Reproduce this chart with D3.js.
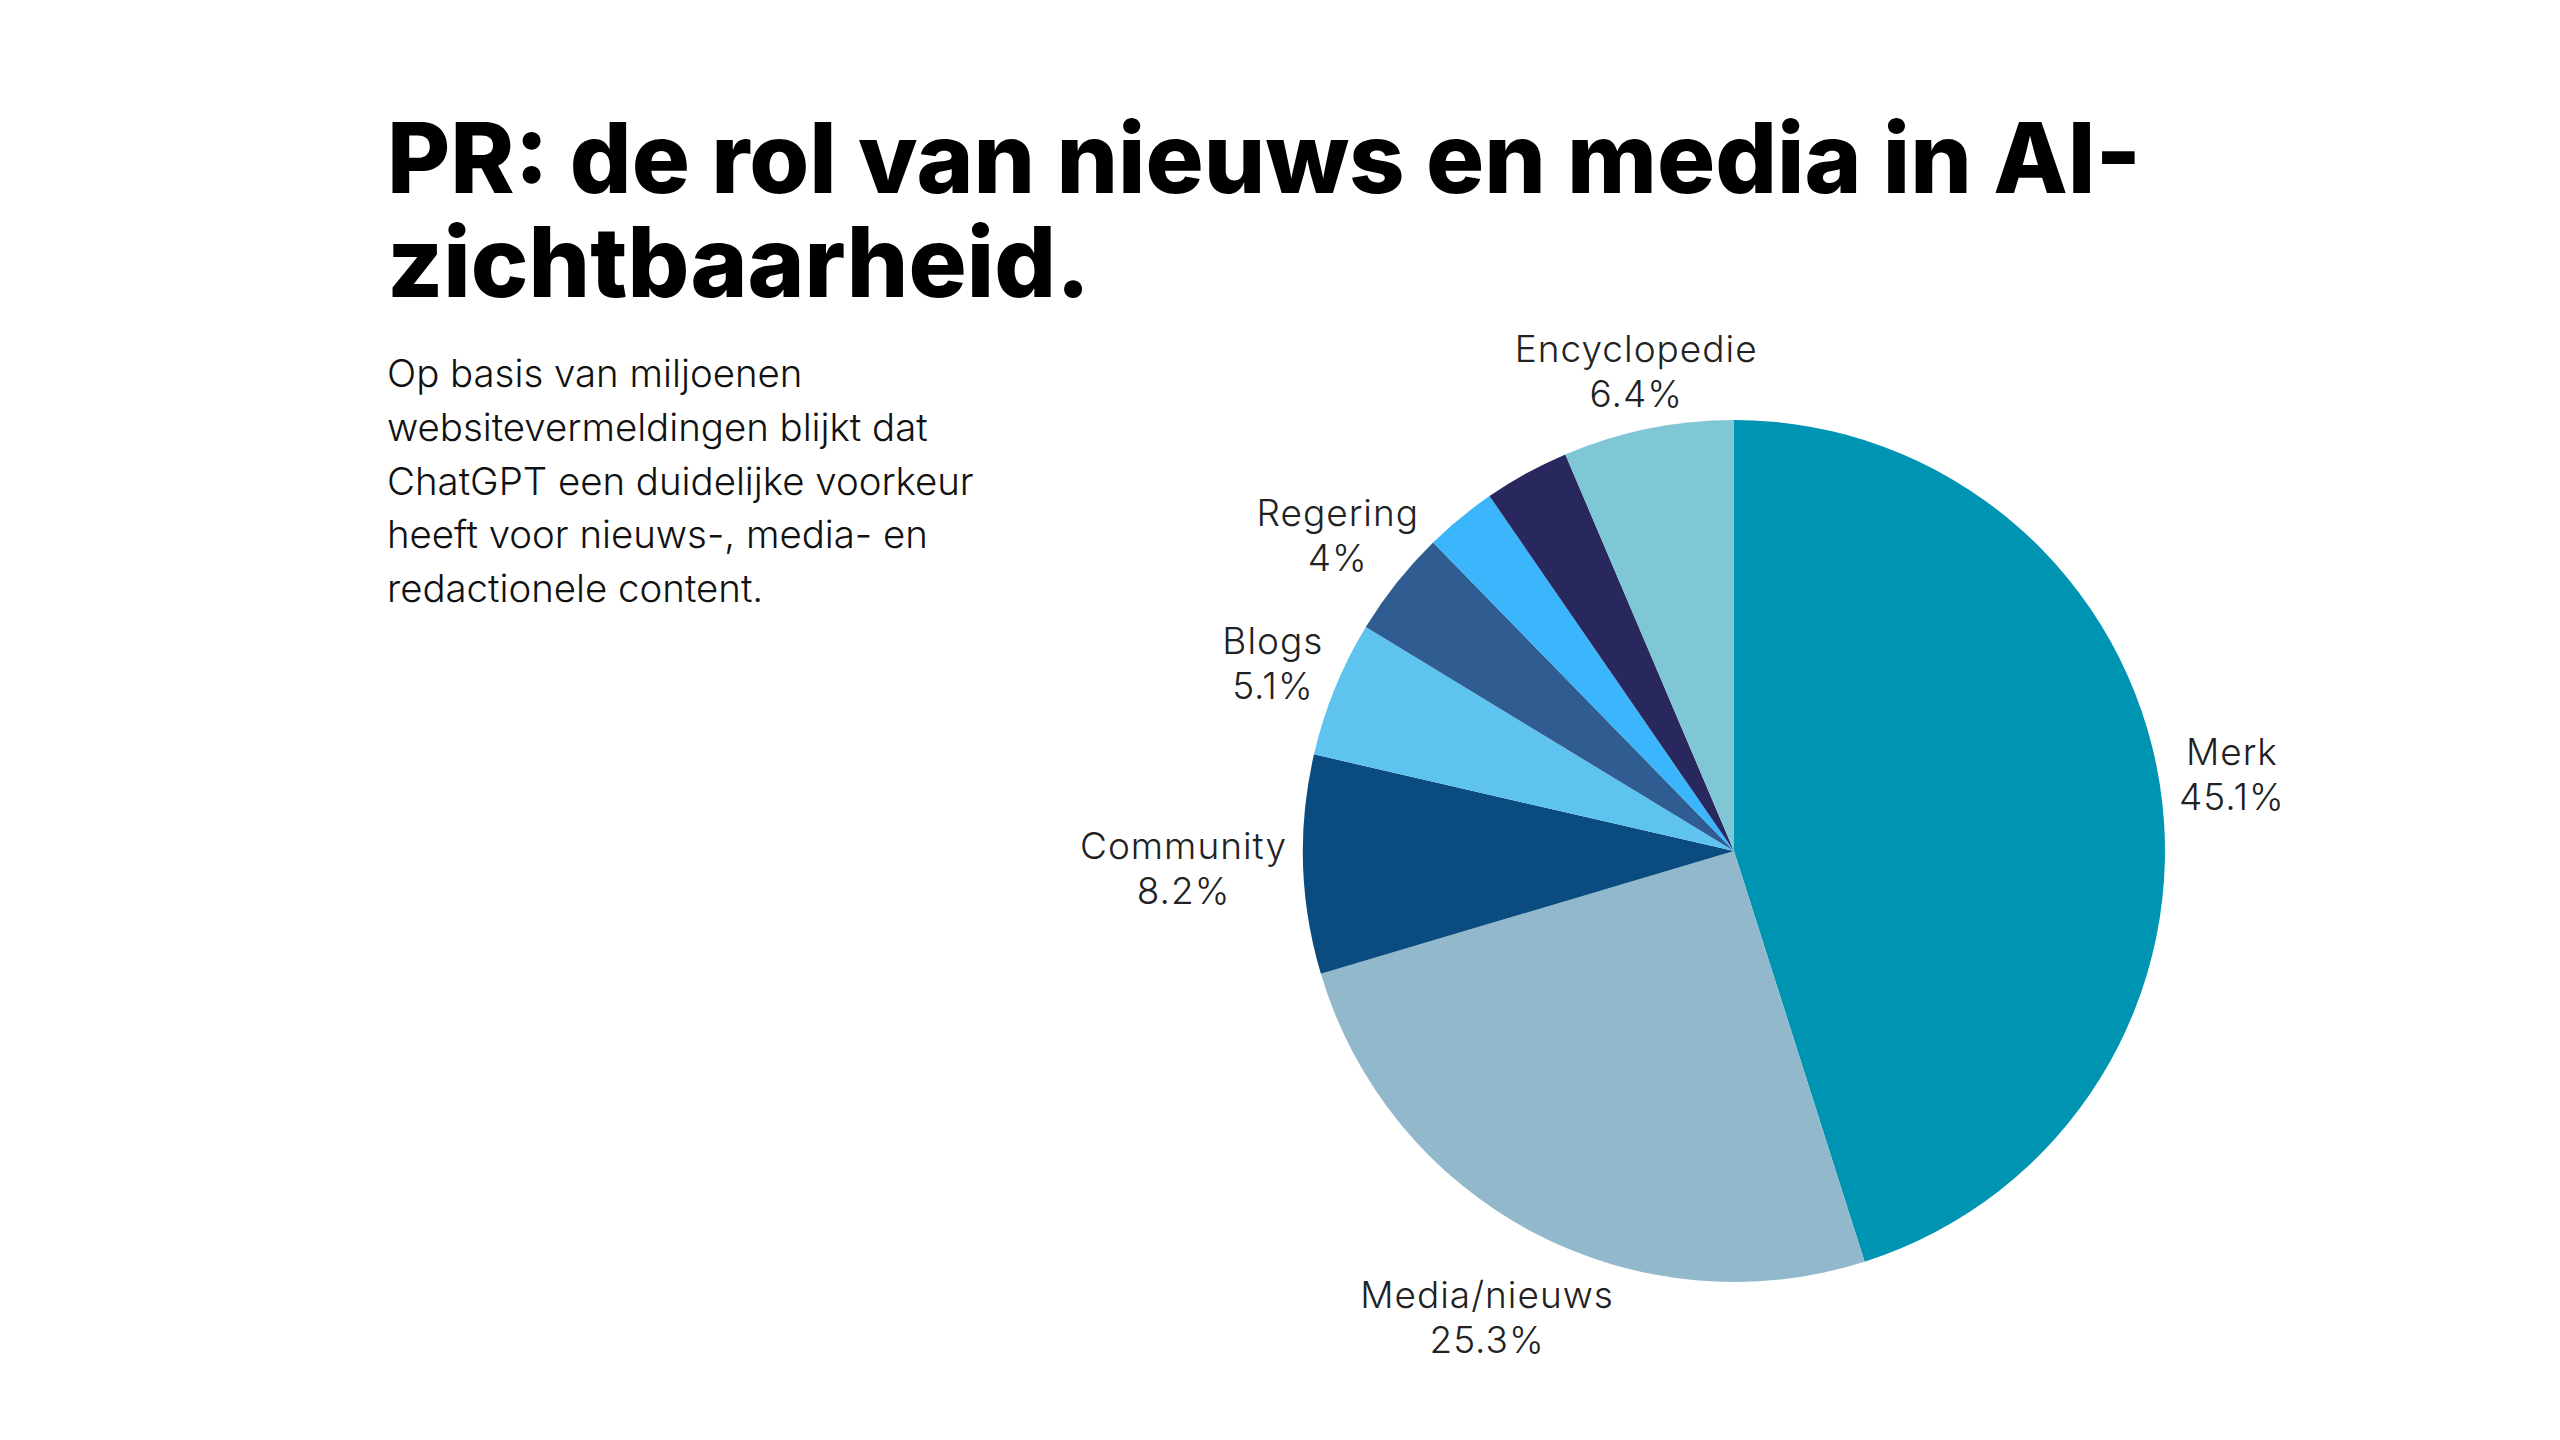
<!DOCTYPE html>
<html>
<head>
<meta charset="utf-8">
<script src="https://cdn.jsdelivr.net/npm/d3@7"></script>
<style>
  html, body { margin: 0; padding: 0; background: #fff; }
  #chart { position: relative; width: 2560px; height: 1440px; }
  svg { display: block; }
  .title {
    position: absolute;
    left: 387px;
    top: 106px;
    margin: 0;
    font-family: Inter, 'Open Sans', sans-serif;
    font-size: 97px;
    font-weight: 800;
    line-height: 104px;
    color: #000;
    white-space: nowrap;
  }
</style>
</head>
<body>
<div id="chart"></div>
<script>
// data
const categories = ["Merk", "Media/nieuws", "Community", "Blogs", "Regering", "Overig", "Anders", "Encyclopedie"];
const values = [45.1, 25.3, 8.2, 5.1, 4, 2.7, 3.2, 6.4];
const colors = ["#0094b3", "#92b9cb", "#0a4c7f", "#5ec4ef", "#2f5d91", "#3bb5fb", "#29285e", "#80c7d6"];
const titleLines = ["PR: de rol van nieuws en media in AI-", "zichtbaarheid."];
const subtitleLines = [
  "Op basis van miljoenen",
  "websitevermeldingen blijkt dat",
  "ChatGPT een duidelijke voorkeur",
  "heeft voor nieuws-, media- en",
  "redactionele content."
];
const minLabelValue = 4; // smaller slices get no label

const width = 2560;
const height = 1440;
const cx = 1734, cy = 851, radius = 431;
const labelSize = 37, labelLine = 45, labelGap = 16;

const chart = d3.select("#chart");

// title as one block so both lines share a box
chart.append("h1")
    .attr("class", "title")
    .html(titleLines.join("<br>"));

const svg = chart.append("svg")
    .attr("width", width)
    .attr("height", height)
    .attr("viewBox", [0, 0, width, height])
    .style("font-family", "Inter, 'Open Sans', sans-serif");

// intro text
svg.append("text")
    .attr("font-size", 38.4)
    .attr("font-weight", 300)
    .attr("fill", "#111")
  .selectAll("tspan")
  .data(subtitleLines)
  .join("tspan")
    .attr("x", 387)
    .attr("y", (d, i) => 387 + i * 53.8)
    .text(d => d);

const data = categories.map((c, i) => ({name: c, value: values[i], color: colors[i]}));

const pie = d3.pie()
    .sort(null)
    .value(d => d.value);

const arc = d3.arc()
    .innerRadius(0)
    .outerRadius(radius);

const arcs = pie(data);

const g = svg.append("g")
    .attr("transform", `translate(${cx},${cy})`);

g.selectAll("path")
  .data(arcs)
  .join("path")
    .attr("d", arc)
    .attr("fill", d => d.data.color);

// labels: pushed out along the mid angle until clear of the pie
const labels = g.selectAll("g.label")
  .data(arcs.filter(d => d.data.value >= minLabelValue))
  .join("g")
    .attr("class", "label")
    .attr("font-size", labelSize)
    .attr("font-weight", 300)
    .attr("letter-spacing", 1)
    .attr("fill", "#222")
    .attr("text-anchor", "middle");

labels.each(function(d) {
  const el = d3.select(this);
  const lines = [d.data.name, `${d.data.value}%`];
  const t = el.selectAll("text")
    .data(lines)
    .join("text")
      .text(s => s);
  const widths = [];
  t.each(function() { widths.push(this.getComputedTextLength()); });

  const a = (d.startAngle + d.endAngle) / 2;
  const ux = Math.sin(a), uy = -Math.cos(a);
  const cap = 0.72 * labelSize;
  // block centre is between top of line 1 and baseline of line 2
  const boxes = dist => {
    const x = ux * dist, yc = uy * dist;
    const b1 = yc - (labelLine - cap) / 2;
    const b2 = b1 + labelLine;
    return {x, b1, b2, rects: [
      [x - widths[0] / 2, x + widths[0] / 2, b1 - cap, b1 + 0.2 * labelSize],
      [x - widths[1] / 2, x + widths[1] / 2, b2 - cap, b2]
    ]};
  };
  const nearest = r => d3.min(r.rects, ([x0, x1, y0, y1]) => {
    const px = Math.max(x0, Math.min(0, x1));
    const py = Math.max(y0, Math.min(0, y1));
    return Math.hypot(px, py);
  });
  let lo = radius, hi = radius + 400;
  for (let k = 0; k < 40; k++) {
    const mid = (lo + hi) / 2;
    if (nearest(boxes(mid)) < radius + labelGap) lo = mid; else hi = mid;
  }
  const p = boxes(hi);
  t.attr("x", p.x)
   .attr("y", (s, i) => i === 0 ? p.b1 : p.b2);
});
</script>
</body>
</html>
